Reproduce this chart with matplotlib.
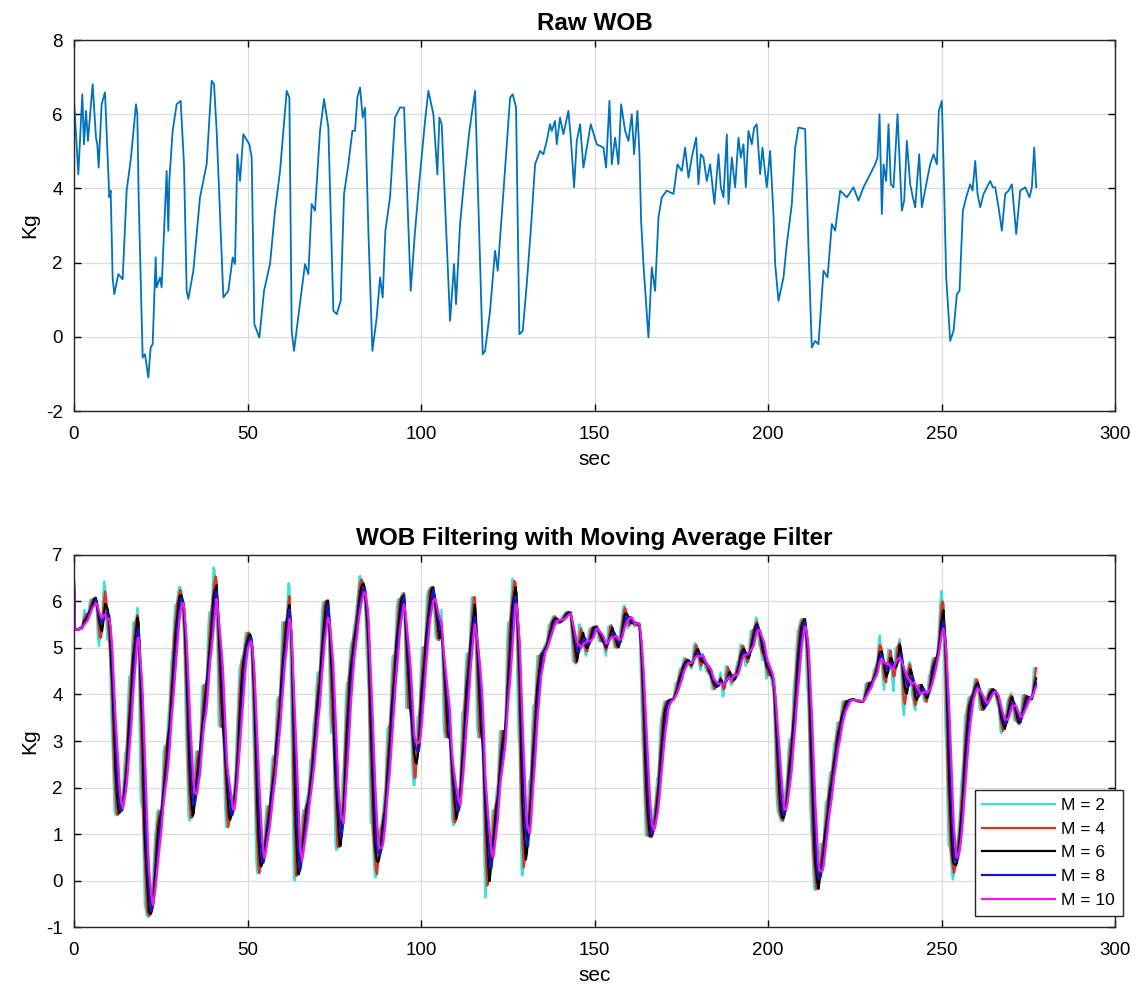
import numpy as np
import matplotlib
matplotlib.use('Agg')
import matplotlib.pyplot as plt

plt.rcParams['font.family'] = ['Liberation Sans', 'DejaVu Sans']
plt.rcParams['axes.unicode_minus'] = False

# raw WOB readings (sec, Kg)
t_raw = [0, 1.25, 2.4, 2.88, 3.46, 4.03, 5.38, 6.34, 6.72, 7.11, 7.97, 8.93, 10.18, 10.57, 11.14, 11.62,
         12.78, 14.02, 15.18, 16.43, 17.87, 18.25, 18.64, 19.79, 20.46, 21.42, 22.09, 22.67, 23.54, 23.82,
         24.78, 25.26, 26.7, 27.19, 27.47, 28.43, 29.59, 30.74, 31.7, 32.47, 32.95, 34.39, 36.31, 38.23,
         39.67, 40.35, 41.11, 43.04, 44.48, 45.72, 46.4, 47.07, 47.84, 48.8, 50.53, 51.2, 51.97, 53.41,
         54.76, 56.48, 57.93, 59.37, 61.29, 62.06, 62.73, 63.4, 64.94, 65.32, 66.57, 67.53, 68.49, 69.45,
         70.89, 72.05, 73.29, 74.73, 75.69, 76.85, 77.81, 79.06, 80.21, 80.98, 81.65, 82.42, 83.19, 83.86,
         84.82, 85.97, 87.22, 88.18, 88.95, 89.72, 91.06, 92.5, 93.94, 95.1, 97.02, 98.27, 99.52, 101.15,
         102.11, 103.55, 104.7, 105.28, 105.95, 108.35, 109.51, 110.08, 111.24, 112.39, 113.93, 115.56,
         117.77, 118.44, 119.88, 121.32, 122.09, 124.3, 125.65, 126.41, 127.37, 128.33, 129.3, 130.45,
         131.6, 132.85, 134.29, 135.25, 136.21, 137.17, 137.65, 138.61, 139.09, 140.05, 141.01, 142.45,
         143.13, 144.09, 144.86, 145.82, 146.78, 147.74, 148.89, 150.62, 152.54, 153.31, 154.27, 154.95,
         155.91, 156.87, 157.64, 158.79, 159.75, 160.71, 161.38, 162.34, 162.92, 163.4, 164.07, 165.51,
         166.47, 167.43, 168.4, 169.36, 170.8, 172.72, 173.87, 175.12, 176.08, 177.04, 178.0, 179.25,
         179.92, 180.6, 181.36, 182.32, 183.28, 184.53, 185.69, 186.36, 187.13, 188.09, 188.57, 189.53,
         190.49, 191.45, 192.12, 192.89, 193.56, 194.33, 195.29, 195.96, 196.73, 197.69, 198.37, 198.85,
         199.61, 200.57, 201.53, 202.02, 202.98, 204.42, 205.38, 206.82, 207.78, 208.74, 210.66, 211.62,
         212.58, 213.54, 214.5, 215.95, 217.1, 218.35, 219.31, 220.75, 222.67, 224.59, 226.03, 227.47,
         229.88, 230.84, 231.51, 232.09, 232.76, 233.24, 234.0, 234.68, 235.35, 236.12, 237.27, 238.04,
         238.52, 239.19, 239.96, 240.92, 241.69, 242.36, 243.52, 244.28, 245.73, 246.69, 247.65, 248.61,
         249.18, 250.04, 250.53, 251.3, 252.45, 253.41, 254.37, 255.14, 256.1, 257.06, 258.21, 258.89,
         259.66, 260.33, 261.1, 262.06, 263.02, 263.98, 264.75, 265.42, 266.38, 267.34, 268.3, 269.26,
         270.22, 271.47, 272.62, 274.06, 275.31, 275.98, 276.65, 277.23]
wob_raw = [6.41, 4.38, 6.54, 5.19, 6.09, 5.28, 6.81, 5.37, 5.19, 4.56, 6.27, 6.59, 3.76, 3.94, 1.60, 1.15,
           1.69, 1.55, 3.94, 4.83, 6.27, 6.00, 3.76, -0.56, -0.47, -1.10, -0.29, -0.20, 2.14, 1.33,
           1.60, 1.33, 4.47, 2.86, 4.20, 5.55, 6.27, 6.36, 4.65, 1.24, 1.02, 1.78, 3.76, 4.65,
           6.90, 6.81, 5.55, 1.06, 1.24, 2.14, 1.96, 4.92, 4.20, 5.46, 5.19, 4.83, 0.34, -0.02,
           1.24, 1.96, 3.40, 4.47, 6.63, 6.45, 0.16, -0.38, 0.79, 1.06, 1.96, 1.69, 3.58, 3.40,
           5.55, 6.41, 5.64, 0.70, 0.61, 0.97, 3.85, 4.65, 5.55, 5.55, 6.45, 6.72, 5.91, 6.18,
           2.86, -0.38, 0.52, 1.60, 1.06, 2.86, 3.76, 5.91, 6.18, 6.18, 1.24, 2.86, 4.20, 5.82,
           6.63, 6.00, 4.38, 5.91, 5.73, 0.43, 1.96, 0.88, 3.04, 4.20, 5.55, 6.63,
           -0.47, -0.38, 0.70, 2.32, 1.78, 4.65, 6.45, 6.54, 6.18, 0.07, 0.16, 1.42,
           2.86, 4.65, 5.01, 4.92, 5.28, 5.73, 5.55, 5.82, 5.19, 5.91, 5.46, 6.09,
           5.37, 4.03, 5.28, 5.73, 4.56, 5.10, 5.73, 5.19, 5.10, 4.56, 6.36, 4.65,
           5.37, 4.65, 6.27, 5.55, 5.28, 6.00, 4.92, 6.09, 4.92, 3.13, 1.96, -0.02,
           1.87, 1.24, 3.22, 3.76, 3.94, 3.85, 4.65, 4.47, 5.10, 4.29, 4.83, 5.37,
           4.11, 4.92, 4.83, 4.20, 4.65, 3.58, 4.92, 4.03, 3.76, 5.46, 3.58, 4.83,
           4.03, 5.37, 4.83, 5.19, 4.03, 5.55, 5.19, 5.64, 5.73, 4.38, 5.10, 4.65,
           4.03, 5.01, 3.31, 1.96, 0.97, 1.60, 2.50, 3.58, 5.10, 5.64, 5.60, 2.41,
           -0.29, -0.11, -0.20, 1.78, 1.60, 3.04, 2.86, 3.94, 3.76, 4.03, 3.67, 4.03,
           4.47, 4.65, 4.83, 6.00, 3.31, 4.65, 4.20, 5.73, 4.11, 4.03, 6.00, 4.38,
           3.40, 3.67, 5.28, 4.11, 3.76, 3.49, 4.92, 3.49, 4.20, 4.65, 4.92, 4.65,
           6.09, 6.36, 4.65, 1.60, -0.11, 0.16, 1.15, 1.24, 3.40, 3.76, 4.11, 3.94,
           4.74, 3.85, 3.49, 3.85, 4.03, 4.20, 4.03, 4.03, 3.49, 2.86, 3.85, 3.94,
           4.11, 2.77, 3.94, 4.03, 3.76, 4.03, 5.10, 4.03]

window_sizes = [2, 4, 6, 8, 10]
ma_colors = ['#3ee0da', '#e0321e', 'black', '#1414c8', '#e81ee8']
sample_dt = 0.3  # sec per sample


def moving_average(t, v, m, dt):
    # trailing average of the raw signal over m samples
    t = np.asarray(t, float)
    v = np.asarray(v, float)
    area = np.concatenate([[0.0], np.cumsum(np.diff(t) * (v[1:] + v[:-1]) / 2)])
    ts = np.arange(t[0], t[-1] + 1e-9, dt)
    start = np.maximum(ts - m * dt, t[0])
    out = np.empty_like(ts)
    span = ts - start
    ok = span > 0
    out[ok] = (np.interp(ts[ok], t, area) - np.interp(start[ok], t, area)) / span[ok]
    out[~ok] = np.interp(ts[~ok], t, v)
    return ts, out


def style_axes(ax):
    ax.grid(True, color='#dcdcdc', linewidth=0.9)
    ax.set_axisbelow(True)
    ax.tick_params(direction='in', top=True, right=True, labelsize=13.5, length=5, width=1.0)
    ax.tick_params(axis='x', pad=11)
    ax.tick_params(axis='y', pad=8)
    for s in ax.spines.values():
        s.set_linewidth(1.0)
        s.set_color('#262626')
    ax.set_xlim(0, 300)
    ax.set_xticks(range(0, 301, 50))
    ax.set_xlabel('sec', fontsize=15, labelpad=5)
    ax.set_ylabel('Kg', fontsize=15, labelpad=5)


fig = plt.figure(figsize=(11.38, 9.88), dpi=100)
ax1 = fig.add_axes([0.065, 0.584, 0.915, 0.3755])
ax2 = fig.add_axes([0.065, 0.0617, 0.915, 0.3766])

ax1.plot(t_raw, wob_raw, color='#0072BD', linewidth=1.3)
style_axes(ax1)
ax1.set_ylim(-2, 8)
ax1.set_yticks(range(-2, 9, 2))
ax1.set_title('Raw WOB', fontsize=17.5, fontweight='bold', pad=7)

for m, c in zip(window_sizes, ma_colors):
    ts, ma = moving_average(t_raw, wob_raw, m, sample_dt)
    ax2.plot(ts, ma, color=c, linewidth=1.6, label='M = %d' % m)
style_axes(ax2)
ax2.set_ylim(-1, 7)
ax2.set_yticks(range(-1, 8))
ax2.set_title('WOB Filtering with Moving Average Filter', fontsize=17.5, fontweight='bold', pad=7)
leg = ax2.legend(loc='lower right', bbox_to_anchor=(0.9868, 0.0729), bbox_transform=fig.transFigure,
                 fontsize=12.5, fancybox=False, framealpha=1, edgecolor='#262626',
                 handlelength=4.2, handletextpad=0.35, borderaxespad=0, borderpad=0.45,
                 labelspacing=0.5)
leg.get_frame().set_linewidth(1.0)

fig.savefig('out.png', dpi=100)
